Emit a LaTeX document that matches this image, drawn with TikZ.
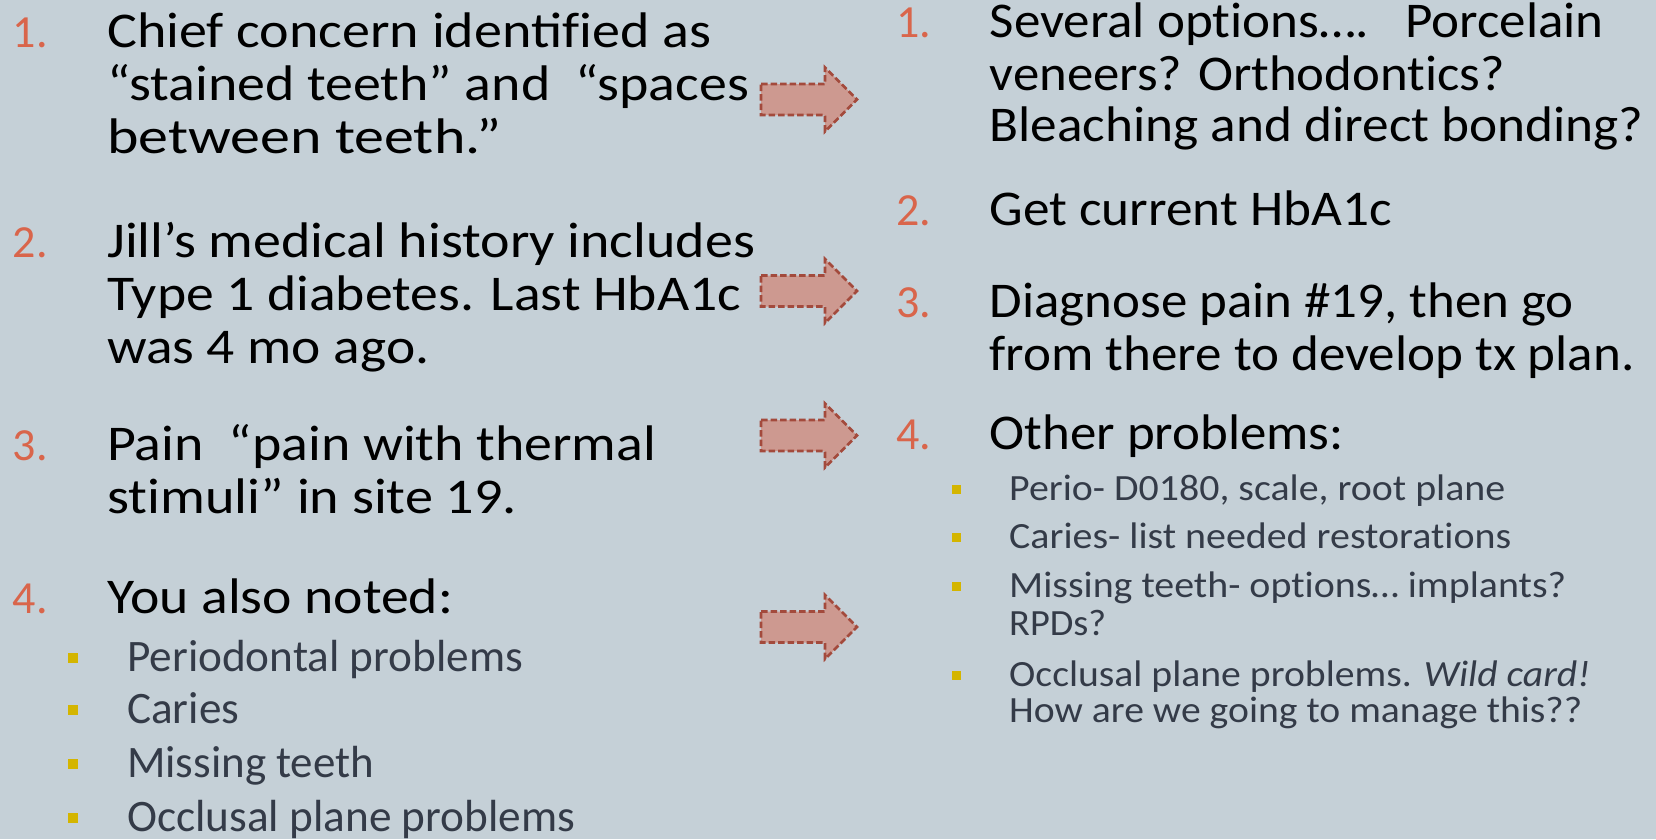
\documentclass[tikz,border=0pt]{standalone}
\usepackage{fontspec}
\setmainfont{Carlito}
\usepackage{graphicx}
% set a line of text to a given width (pt), keeping its height
\newcommand{\fitw}[2]{\resizebox{#1pt}{\height}{#2}}
% zero kern that keeps two letters from joining into a ligature
\newcommand{\nolg}{\kern0pt}
\definecolor{bg}{HTML}{C5D0D7}
\definecolor{numc}{HTML}{D9654B}
\definecolor{subc}{HTML}{343B48}
\definecolor{bul}{HTML}{D4B500}
\definecolor{arfill}{HTML}{CD9990}
\definecolor{arline}{HTML}{A34A3C}
\tikzset{
  mainline/.style={inner sep=0pt, anchor=base west, text=black, font=\fontsize{50}{53}\selectfont},
  numline/.style={inner sep=0pt, anchor=base west, text=numc, font=\fontsize{46}{53}\selectfont},
  subline/.style={inner sep=0pt, anchor=base west, text=subc, font=\fontsize{45}{52}\selectfont},
  smallsub/.style={inner sep=0pt, anchor=base west, text=subc, font=\fontsize{37}{37}\selectfont},
  bigbullet/.style={fill=bul, draw=none, inner sep=0pt, minimum size=10pt},
  smallbullet/.style={fill=bul, draw=none, inner sep=0pt, minimum size=9pt},
  arrowbody/.style={fill=arfill, draw=arline, line width=2.6pt, dash pattern=on 6.5pt off 3pt, line join=miter},
  blockarrow/.pic={
    \draw[arrowbody] (-48,-15.5) -- (16,-15.5) -- (16,-32) -- (48,0) -- (16,32) -- (16,15.5) -- (-48,15.5) -- cycle;
  }
}
\begin{document}
\begin{tikzpicture}[x=1pt,y=-1pt]
\useasboundingbox (0,0) rectangle (1656,839);
\fill[bg] (0,0) rectangle (1656,839);

% ---------- left column ----------
\node[numline] (ln1) at (12.7,47) {1.};
\node[mainline] (l1a) at (107,47)  {\fitw{604}{Chief concern identif\nolg{}ied as}};
\node[mainline] (l1b) at (107,100) {\fitw{642}{“stained teeth” and\ \ “spaces}};
\node[mainline] (l1c) at (107,153) {\fitw{394}{between teeth.”}};

\node[numline] (ln2) at (12.7,257) {2.};
\node[mainline] (l2a) at (107,257) {\fitw{648}{Jill’s medical history includes}};
\node[mainline] (l2b) at (107,310) {\fitw{634}{Type 1 diabetes. Last HbA1c}};
\node[mainline] (l2c) at (107,363) {\fitw{322}{was 4 mo ago.}};

\node[numline] (ln3) at (12.7,460) {3.};
\node[mainline] (l3a) at (107,460) {\fitw{549}{Pain\ \ “pain with thermal}};
\node[mainline] (l3b) at (107,513) {\fitw{410}{st\nolg{}imuli” in site 19.}};

\node[numline] (ln4) at (12.7,613) {4.};
\node[mainline] (l4a) at (107,613) {\fitw{346}{You also noted:}};

\node[bigbullet] (lb1) at (73,658) {};
\node[subline] (ls1) at (127,671) {\fitw{396}{Periodontal problems}};
\node[bigbullet] (lb2) at (73,710) {};
\node[subline] (ls2) at (127,723) {\fitw{112}{Caries}};
\node[bigbullet] (lb3) at (73,764) {};
\node[subline] (ls3) at (127,777) {\fitw{247}{Missing teeth}};
\node[bigbullet] (lb4) at (73,818) {};
\node[subline] (ls4) at (127,831) {\fitw{448}{Occlusal plane problems}};

% ---------- arrows ----------
\pic at (809,99.5) {blockarrow};
\pic at (809,291) {blockarrow};
\pic at (809,435.5) {blockarrow};
\pic at (809,627) {blockarrow};

% ---------- right column ----------
\node[numline] (rn1) at (896,37) {1.};
\node[mainline] (r1a) at (989.5,37)  {\fitw{614}{Several opt\nolg{}ions….\ \ \ Porcelain}};
\node[mainline] (r1b) at (989.5,90)  {\fitw{515}{veneers? Orthodont\nolg{}ics?}};
\node[mainline] (r1c) at (989.5,141) {\fitw{654}{Bleaching and direct bonding?}};

\node[numline] (rn2) at (896,225) {2.};
\node[mainline] (r2a) at (989.5,225) {\fitw{402}{Get current HbA1c}};

\node[numline] (rn3) at (896,317) {3.};
\node[mainline] (r3a) at (989.5,317) {\fitw{584}{Diagnose pain \#19, then go}};
\node[mainline] (r3b) at (989.5,370) {\fitw{645}{from there to develop tx plan.}};

\node[numline] (rn4) at (896,449) {4.};
\node[mainline] (r4a) at (989.5,449) {\fitw{354}{Other problems:}};

\node[smallbullet] (rb1) at (956,489.5) {};
\node[smallsub] (rs1) at (1009,500) {\fitw{496}{Perio- D0180, scale, root plane}};
\node[smallbullet] (rb2) at (956,537.5) {};
\node[smallsub] (rs2) at (1009,548) {\fitw{502}{Caries- list needed restorat\nolg{}ions}};
\node[smallbullet] (rb3) at (956,586.5) {};
\node[smallsub] (rs3a) at (1009,597) {\fitw{557}{Missing teeth- opt\nolg{}ions… implants?}};
\node[smallsub] (rs3b) at (1009,635) {\fitw{97}{RPDs?}};
\node[smallbullet] (rb4) at (956,675.5) {};
\node[smallsub] (rs4a) at (1009,686) {\fitw{581}{Occlusal plane problems. \textit{Wild card!}}};
\node[smallsub] (rs4b) at (1009,722) {\fitw{573}{How are we going to manage this??}};
\end{tikzpicture}
\end{document}
